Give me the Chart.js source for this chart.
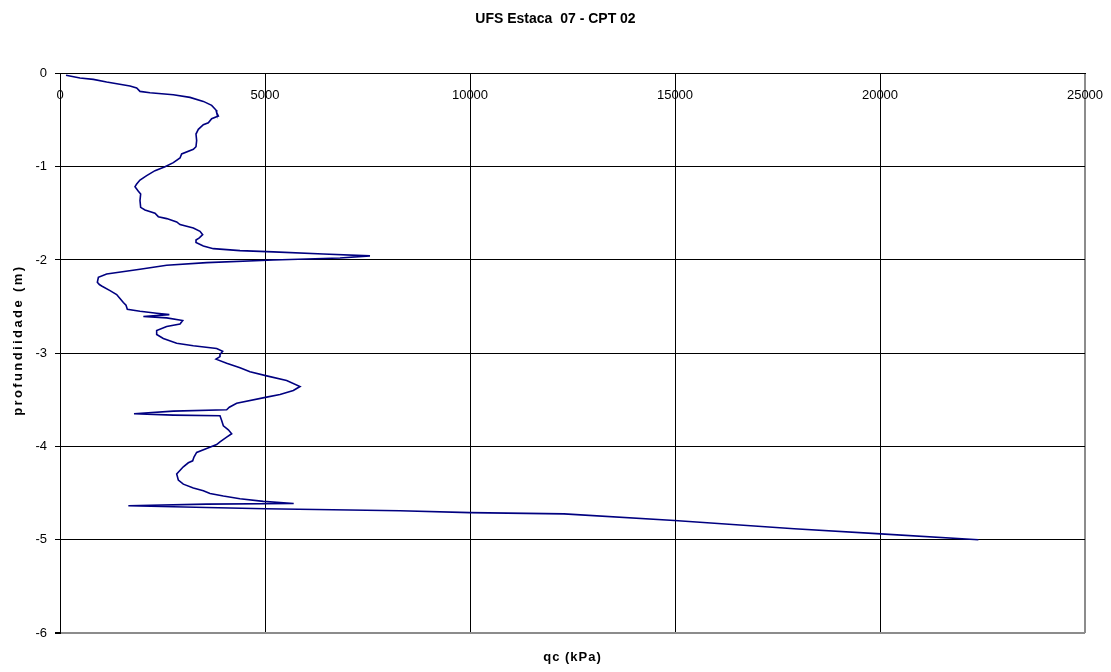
<!DOCTYPE html>
<html>
<head>
<meta charset="utf-8">
<style>
  html, body { margin: 0; padding: 0; background: #ffffff; }
  #wrap { width: 1111px; height: 672px; position: relative; }
</style>
<script src="https://cdn.jsdelivr.net/npm/chart.js@4.4.1/dist/chart.umd.min.js"></script>
</head>
<body>
<div id="wrap"><canvas id="cpt"></canvas></div>
<script>
// CPT 02 sounding: cone resistance qc (kPa) against depth (m)
const depth = [
  0.02, 0.05, 0.064, 0.093, 0.136, 0.157, 0.193, 0.207, 0.229, 0.257,
  0.30, 0.343, 0.393, 0.421, 0.457, 0.486, 0.529, 0.55, 0.60, 0.65,
  0.72, 0.786, 0.814, 0.864, 0.907, 0.957, 1.0, 1.043, 1.096, 1.143,
  1.186, 1.214, 1.264, 1.293, 1.364, 1.436, 1.464, 1.5, 1.536, 1.557,
  1.593, 1.621, 1.657, 1.693, 1.729, 1.764, 1.786, 1.814, 1.85, 1.879,
  1.9, 1.914, 1.936, 1.957, 1.979, 2.0, 2.029, 2.057, 2.1, 2.15,
  2.186, 2.24, 2.264, 2.279, 2.329, 2.371, 2.414, 2.457, 2.486, 2.529,
  2.55, 2.571, 2.586, 2.607, 2.621, 2.65, 2.686, 2.714, 2.757, 2.8,
  2.843, 2.893, 2.921, 2.95, 2.979, 3.014, 3.036, 3.064, 3.107, 3.157,
  3.2, 3.243, 3.293, 3.357, 3.4, 3.443, 3.471, 3.536, 3.579, 3.607,
  3.621, 3.65, 3.664, 3.671, 3.721, 3.779, 3.821, 3.864, 3.9, 3.95,
  3.979, 4.021, 4.064, 4.114, 4.154, 4.175, 4.218, 4.296, 4.36, 4.404,
  4.446, 4.475, 4.504, 4.532, 4.561, 4.589, 4.611, 4.618, 4.636, 4.654,
  4.668, 4.689, 4.709, 4.723, 4.794, 4.883, 4.937, 5.0
];
const qc = [
  146, 488, 813, 1138, 1707, 1870, 1951, 2195, 2764, 3170,
  3496, 3699, 3805, 3821, 3862, 3699, 3618, 3496, 3374, 3317,
  3333, 3317, 3252, 2967, 2927, 2764, 2561, 2317, 2114, 1951,
  1870, 1829, 1911, 1967, 1951, 1967, 2073, 2317, 2398, 2602,
  2846, 2927, 3252, 3415, 3480, 3398, 3317, 3317, 3496, 3740,
  4390, 5203, 6423, 7561, 6829, 5203, 3577, 2602, 1951, 1138,
  936, 911, 960, 1016, 1220, 1382, 1463, 1545, 1610, 1642,
  1951, 2358, 2667, 2033, 2602, 2992, 2927, 2602, 2358, 2358,
  2520, 2846, 3252, 3821, 3967, 3902, 3902, 3805, 4065, 4390,
  4634, 5041, 5528, 5854, 5691, 5366, 5041, 4309, 4130, 4065,
  2764, 1805, 2764, 3902, 3943, 3984, 4106, 4187, 4065, 3902,
  3821, 3577, 3333, 3268, 3236, 3130, 3008, 2846, 2886, 3008,
  3252, 3496, 3659, 3984, 4390, 4959, 5700, 3577, 1667, 3577,
  5000, 8293, 9993, 12293, 14988, 17907, 20017, 22400
];
const qcTicks = [0, 5000, 10000, 15000, 20000, 25000];
const depthTicks = [0, -1, -2, -3, -4, -5, -6];

const chartTitle = 'UFS Estaca  07 - CPT 02';
const xTitle = 'qc (kPa)';
const yTitle = 'profundiidade (m)';

const points = depth.map((d, i) => ({ x: qc[i], y: -d }));

const FONT = 'Arial, "Liberation Sans", sans-serif';
const BORDER_GREY = '#8c8c8c';

// Axis titles: x title centred under the plot, y title rotated on the left
const axisTitles = {
  id: 'axisTitles',
  afterDraw(chart) {
    const { ctx, chartArea } = chart;
    ctx.save();
    ctx.fillStyle = '#000';
    ctx.textAlign = 'center';
    ctx.textBaseline = 'middle';
    ctx.font = 'bold 13px ' + FONT;
    if ('letterSpacing' in ctx) ctx.letterSpacing = '1px';
    ctx.fillText(xTitle, (chartArea.left + chartArea.right) / 2, chartArea.bottom + 24);
    ctx.translate(18, (chartArea.top + chartArea.bottom) / 2 - 13);
    ctx.rotate(-Math.PI / 2);
    if ('letterSpacing' in ctx) ctx.letterSpacing = '2.4px';
    ctx.fillText(yTitle, 0, 0);
    ctx.restore();
  }
};

new Chart(document.getElementById('cpt'), {
  type: 'scatter',
  data: {
    datasets: [{
      data: points,
      showLine: true,
      borderColor: '#000080',
      borderWidth: 1.6,
      pointRadius: 0,
      pointHoverRadius: 0,
      tension: 0,
      fill: false
    }]
  },
  plugins: [axisTitles],
  options: {
    responsive: true,
    maintainAspectRatio: false,
    animation: false,
    devicePixelRatio: 1,
    layout: { padding: { left: 0, right: 0, top: 0, bottom: 39 } },
    plugins: {
      legend: { display: false },
      tooltip: { enabled: false },
      title: {
        display: true,
        text: chartTitle,
        color: '#000',
        font: { family: FONT, size: 14, weight: 'bold' },
        padding: { top: 10.6, bottom: 46 }
      }
    },
    scales: {
      x: {
        type: 'linear',
        position: { y: 0 },
        min: 0,
        max: 25000,
        afterBuildTicks: (scale) => { scale.ticks = qcTicks.map(v => ({ value: v })); },
        ticks: {
          color: '#000',
          font: { family: FONT, size: 13 },
          padding: 0,
          maxRotation: 0,
          autoSkip: false,
          callback: (v) => String(v)
        },
        grid: {
          drawTicks: true,
          tickLength: 14,
          tickColor: 'rgba(0,0,0,0)',
          color: (c) => (c.tick && c.tick.value === 25000) ? BORDER_GREY : '#000',
          lineWidth: (c) => (c.tick && c.tick.value === 25000) ? 2 : 1
        },
        border: { display: true, color: '#000', width: 1 }
      },
      y: {
        type: 'linear',
        position: 'left',
        min: -6,
        max: 0,
        afterBuildTicks: (scale) => { scale.ticks = depthTicks.map(v => ({ value: v })); },
        afterFit: (scale) => { scale.width = 60; },
        ticks: {
          color: '#000',
          font: { family: FONT, size: 13 },
          padding: 8,
          autoSkip: false,
          callback: (v) => String(v)
        },
        grid: {
          drawTicks: true,
          tickLength: 5,
          tickColor: '#000',
          color: (c) => (c.tick && c.tick.value === -6) ? BORDER_GREY : '#000',
          lineWidth: (c) => (c.tick && c.tick.value === -6) ? 2 : 1
        },
        border: { display: true, color: '#000', width: 1 }
      },
      // empty margin on the right of the plot
      yRight: {
        type: 'linear',
        position: 'right',
        min: 0,
        max: 1,
        afterFit: (scale) => { scale.width = 26; },
        ticks: { display: false },
        grid: { display: false, drawOnChartArea: false },
        border: { display: false }
      }
    }
  }
});
</script>
</body>
</html>
